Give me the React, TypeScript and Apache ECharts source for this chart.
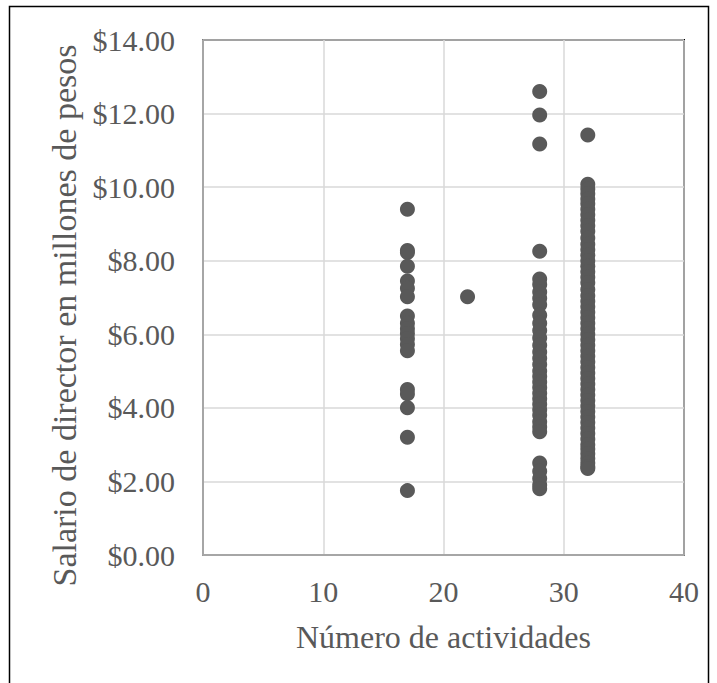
import React, { useEffect, useRef } from "react";
import * as echarts from "echarts";

const xTicks = [0, 10, 20, 30, 40];
const yTicks = [0, 2, 4, 6, 8, 10, 12, 14];

const actividades17 = 17;
const salarios17 = [9.40, 8.28, 8.22, 7.85, 7.45, 7.25, 7.02, 6.50, 6.30, 6.15, 6.02, 5.88, 5.72, 5.55, 4.50, 4.38, 4.00, 3.20, 1.75];
const actividades22 = 22;
const salarios22 = [7.02];
const actividades28 = 28;
const salarios28 = [12.60, 11.96, 11.17, 8.26, 7.50, 7.35, 7.15, 6.98, 6.80, 6.52, 6.30, 6.10, 5.90, 5.70, 5.52, 5.35, 5.18, 5.00, 4.85, 4.70, 4.55, 4.40, 4.25, 4.10, 3.95, 3.80, 3.62, 3.48, 3.35, 2.50, 2.28, 2.08, 1.90, 1.80];
const actividades32 = 32;
const salarios32 = [11.42, 10.08, 9.95, 9.82, 9.68, 9.55, 9.40, 9.25, 9.10, 8.95, 8.80, 8.62, 8.45, 8.30, 8.15, 8.00, 7.85, 7.70, 7.55, 7.40, 7.22, 7.05, 6.90, 6.75, 6.60, 6.45, 6.30, 6.15, 6.00, 5.85, 5.70, 5.55, 5.40, 5.25, 5.10, 4.95, 4.80, 4.65, 4.50, 4.35, 4.20, 4.05, 3.90, 3.75, 3.60, 3.45, 3.30, 3.15, 3.00, 2.88, 2.75, 2.62, 2.50, 2.40, 2.35];

const xName = "Número de actividades";
const yName = "Salario de director en millones de pesos";

export default function App() {
  const ref = useRef<HTMLDivElement>(null);
  useEffect(() => {
    if (!ref.current) return;
    const chart = echarts.init(ref.current, null, { renderer: "svg" });
    const groups: [number, number[]][] = [
      [actividades17, salarios17],
      [actividades22, salarios22],
      [actividades28, salarios28],
      [actividades32, salarios32],
    ];
    const data: number[][] = [];
    groups.forEach(([x, ys]) => ys.forEach((y) => data.push([x, y])));
    const font = "'Liberation Serif', 'Times New Roman', serif";
    const textColor = "#595959";
    chart.setOption({
      animation: false,
      backgroundColor: "#ffffff",
      grid: {
        left: 203,
        top: 40,
        right: 33,
        bottom: 128,
        show: true,
        borderColor: "#000000",
        borderWidth: 2,
        backgroundColor: "transparent",
      },
      graphic: [
        {
          type: "rect",
          shape: { x: 9.5, y: 6.5, width: 699, height: 690 },
          style: { fill: "none", stroke: "#000000", lineWidth: 1.5 },
          silent: true,
        },
      ],
      xAxis: {
        type: "value",
        min: xTicks[0],
        max: xTicks[xTicks.length - 1],
        interval: 10,
        name: xName,
        nameLocation: "middle",
        nameGap: 66,
        nameTextStyle: { fontFamily: font, fontSize: 32, color: textColor },
        axisLine: { show: true, lineStyle: { color: "#a6a6a6", width: 2 } },
        axisTick: { show: false },
        axisLabel: {
          fontFamily: font,
          fontSize: 30,
          color: textColor,
          margin: 21,
          formatter: (v: number) => String(v),
        },
        splitLine: { show: true, lineStyle: { color: "#d9d9d9", width: 1.5 } },
      },
      yAxis: {
        type: "value",
        min: yTicks[0],
        max: yTicks[yTicks.length - 1],
        interval: 2,
        name: yName,
        nameLocation: "middle",
        nameGap: 110,
        nameTextStyle: {
          fontFamily: font,
          fontSize: 34,
          color: textColor,
          padding: [0, 36, 0, 0],
        },
        axisLine: { show: true, lineStyle: { color: "#a6a6a6", width: 2 } },
        axisTick: { show: false },
        axisLabel: {
          fontFamily: font,
          fontSize: 30,
          color: textColor,
          margin: 28,
          formatter: (v: number) => "$" + v.toFixed(2),
        },
        splitLine: { show: true, lineStyle: { color: "#d9d9d9", width: 1.5 } },
      },
      series: [
        {
          type: "scatter",
          data,
          symbol: "circle",
          symbolSize: 15,
          itemStyle: { color: "#595959", opacity: 1 },
        },
      ],
    });
    return () => chart.dispose();
  }, []);
  return (
    <div
      ref={ref}
      style={{ position: "absolute", left: 0, top: 0, width: 717, height: 683 }}
    />
  );
}
